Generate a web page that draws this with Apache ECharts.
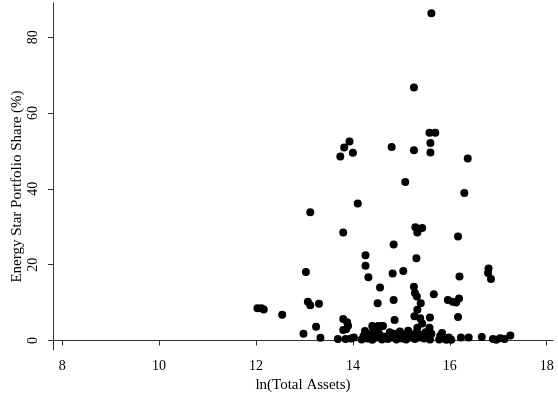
<!DOCTYPE html>
<html>
<head>
<meta charset="utf-8">
<script src="https://cdn.jsdelivr.net/npm/echarts@6/dist/echarts.min.js"></script>
<style>
  html, body { margin: 0; padding: 0; background: #fff; }
  #chart { width: 558px; height: 394px; }
</style>
</head>
<body>
<div id="chart"></div>
<script>
// ln(Total Assets) vs Energy Star share
const lnAssets = [
  15.62, 15.26, 15.58, 15.70, 15.60, 15.60, 15.26, 14.80, 13.93, 13.82, 14.00, 13.74, 16.37, 15.08, 16.30,
  13.12, 14.10, 13.80, 15.29, 15.43, 15.33, 16.17, 14.84, 14.26, 15.31, 14.26, 13.03, 14.82, 15.04,
  16.80, 16.79, 16.85, 14.32, 16.20, 14.56, 15.26, 15.28, 15.32, 15.67,
  15.96, 16.06, 16.19, 16.13, 14.84, 13.07, 13.12, 13.30, 14.51, 15.40,
  12.03, 12.11, 12.16, 12.54, 15.33, 15.27, 15.39, 15.59, 16.17, 13.80, 13.88, 13.90, 14.86,
  13.24, 14.40, 14.60, 15.58, 13.80, 13.86, 12.98, 13.33, 14.45, 14.52,
  13.69, 13.85, 13.96, 14.02, 14.18, 14.22, 14.25, 14.30, 14.35, 14.40, 14.42, 14.48, 14.52, 14.55,
  14.60, 14.62, 14.66, 14.72, 14.76, 14.80, 14.85, 14.90, 14.93, 14.97, 15.02, 15.06, 15.10, 15.14,
  15.18, 15.22, 15.28, 15.30, 15.33, 15.36, 15.40, 15.43, 15.47, 15.50, 15.55, 15.59, 15.62,
  15.78, 15.80, 15.84, 15.88, 15.93, 15.98, 16.03, 16.23, 16.39, 16.66, 16.89, 16.96, 17.04, 17.13, 17.25
];
const energyStarShare = [
  86.3, 66.7, 54.8, 54.8, 52.1, 49.6, 50.2, 51.0, 52.5, 50.9, 49.5, 48.5, 48.0, 41.8, 38.9,
  33.8, 36.1, 28.5, 29.9, 29.7, 28.5, 27.4, 25.3, 22.5, 21.7, 19.7, 18.1, 17.7, 18.3,
  19.0, 17.8, 16.2, 16.7, 16.9, 14.0, 14.2, 12.5, 11.6, 12.2,
  10.7, 10.2, 11.1, 10.0, 10.7, 10.2, 9.3, 9.7, 9.8, 9.8,
  8.5, 8.5, 8.2, 6.8, 8.1, 6.4, 5.9, 6.1, 6.2, 5.7, 4.8, 3.9, 5.4,
  3.6, 3.8, 3.8, 3.4, 2.8, 3.0, 1.8, 0.7, 2.7, 2.7,
  0.4, 0.4, 0.5, 0.8, 0.3, 1.2, 2.5, 0.5, 1.5, 0.2, 2.8, 0.8, 3.8, 1.6,
  0.3, 3.8, 1.0, 0.4, 2.2, 0.8, 1.8, 0.3, 1.2, 2.4, 0.5, 1.5, 0.3, 2.6,
  0.8, 1.4, 0.4, 2.0, 3.4, 0.8, 1.5, 4.5, 0.5, 2.2, 1.0, 0.3, 1.8,
  0.3, 1.2, 2.0, 0.5, 0.2, 0.8, 0.2, 0.8, 0.8, 0.9, 0.4, 0.2, 0.6, 0.4, 1.3
];
const xTicks = [8, 10, 12, 14, 16, 18];
const yTicks = [0, 20, 40, 60, 80];

const points = lnAssets.map(function(x, i) {
    return [x, energyStarShare[i]];
});

const font = 'Liberation Serif';
var chart = echarts.init(document.getElementById('chart'));

option = {
    backgroundColor: '#fff',
    animation: false,
    grid: { left: 53, right: 5, top: 3, bottom: 44, outerBoundsMode: 'none' },
    xAxis: {
        type: 'value',
        min: 7.81,
        max: 18.13,
        name: 'ln(Total Assets)',
        nameLocation: 'middle',
        nameGap: 28,
        nameMoveOverlap: false,
        nameTextStyle: { fontFamily: font, fontSize: 15, color: '#000' },
        splitLine: { show: false },
        axisLine: { lineStyle: { color: '#333', width: 1 } },
        axisTick: { customValues: xTicks, length: 5, lineStyle: { color: '#333' } },
        axisLabel: { customValues: xTicks, margin: 9, fontFamily: font, fontSize: 14, color: '#000' }
    },
    yAxis: {
        type: 'value',
        min: -2.5,
        max: 89,
        name: 'Energy Star Portfolio Share (%)',
        nameLocation: 'middle',
        nameGap: 28,
        nameMoveOverlap: false,
        nameTextStyle: { fontFamily: font, fontSize: 15, color: '#000', padding: [0, 20, 0, 0] },
        splitLine: { show: false },
        axisLine: { show: true, lineStyle: { color: '#333', width: 1 } },
        axisTick: { show: true, customValues: yTicks, length: 5, lineStyle: { color: '#333' } },
        axisLabel: { customValues: yTicks, rotate: 90, margin: 13, fontFamily: font, fontSize: 14, color: '#000' }
    },
    series: [{
        type: 'scatter',
        data: points,
        symbol: 'circle',
        symbolSize: 8,
        itemStyle: { color: '#000', opacity: 1 }
    }]
};

chart.setOption(option);
</script>
</body>
</html>
